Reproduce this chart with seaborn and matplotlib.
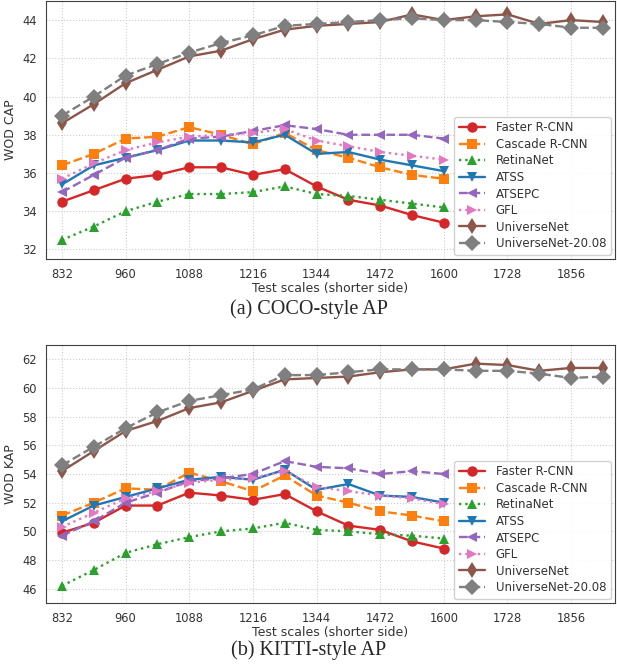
import seaborn as sns
import matplotlib.pyplot as plt
import pandas as pd

# escalas de prueba (lado corto)
escalas = [832, 896, 960, 1024, 1088, 1152, 1216, 1280, 1344, 1408, 1472, 1536, 1600,
           1664, 1728, 1792, 1856, 1920]
metodos = ["Faster R-CNN", "Cascade R-CNN", "RetinaNet", "ATSS", "ATSEPC", "GFL",
           "UniverseNet", "UniverseNet-20.08"]

# COCO-style AP
coco_faster = [34.5, 35.1, 35.7, 35.9, 36.3, 36.3, 35.9, 36.2, 35.3, 34.6, 34.3, 33.8, 33.4]
coco_cascade = [36.4, 37.0, 37.8, 37.9, 38.4, 38.0, 37.5, 38.1, 37.2, 36.8, 36.3, 35.9, 35.7]
coco_retina = [32.5, 33.2, 34.0, 34.5, 34.9, 34.9, 35.0, 35.3, 34.9, 34.8, 34.6, 34.4, 34.2]
coco_atss = [35.4, 36.4, 36.8, 37.2, 37.7, 37.7, 37.6, 38.0, 37.0, 37.1, 36.7, 36.4, 36.1]
coco_atsepc = [35.0, 35.9, 36.8, 37.2, 37.8, 37.9, 38.2, 38.5, 38.3, 38.0, 38.0, 38.0, 37.8]
coco_gfl = [35.7, 36.5, 37.2, 37.6, 37.9, 38.0, 38.1, 38.3, 37.7, 37.4, 37.1, 36.9, 36.7]
coco_universe = [38.6, 39.6, 40.7, 41.4, 42.1, 42.4, 43.0, 43.5, 43.7, 43.8, 43.9, 44.3, 44.0,
                 44.2, 44.3, 43.8, 44.0, 43.9]
coco_universe08 = [39.0, 40.0, 41.1, 41.7, 42.3, 42.8, 43.2, 43.7, 43.8, 43.9, 44.0, 44.1, 44.0,
                   44.0, 43.9, 43.8, 43.6, 43.6]

# KITTI-style AP
kitti_faster = [49.9, 50.6, 51.8, 51.8, 52.7, 52.5, 52.2, 52.6, 51.4, 50.4, 50.1, 49.3, 48.8]
kitti_cascade = [51.1, 52.0, 53.0, 52.9, 54.1, 53.5, 52.8, 53.9, 52.5, 52.0, 51.4, 51.1, 50.7]
kitti_retina = [46.2, 47.3, 48.5, 49.1, 49.6, 50.0, 50.2, 50.6, 50.1, 50.0, 49.8, 49.7, 49.5]
kitti_atss = [50.7, 51.8, 52.4, 53.0, 53.6, 53.8, 53.6, 54.3, 52.9, 53.3, 52.5, 52.4, 52.0]
kitti_atsepc = [49.7, 50.7, 52.0, 52.7, 53.5, 53.7, 54.0, 54.9, 54.5, 54.4, 54.0, 54.2, 54.0]
kitti_gfl = [50.3, 51.3, 52.3, 52.8, 53.4, 53.6, 53.7, 54.2, 53.1, 52.8, 52.5, 52.3, 51.9]
kitti_universe = [54.2, 55.6, 57.0, 57.7, 58.6, 59.0, 59.8, 60.6, 60.7, 60.8, 61.1, 61.3, 61.3,
                  61.7, 61.6, 61.2, 61.4, 61.4]
kitti_universe08 = [54.6, 55.9, 57.2, 58.3, 59.1, 59.5, 59.9, 60.9, 60.9, 61.1, 61.3, 61.3, 61.3,
                    61.2, 61.2, 61.0, 60.7, 60.8]

coco = [coco_faster, coco_cascade, coco_retina, coco_atss, coco_atsepc, coco_gfl,
        coco_universe, coco_universe08]
kitti = [kitti_faster, kitti_cascade, kitti_retina, kitti_atss, kitti_atsepc, kitti_gfl,
         kitti_universe, kitti_universe08]

marcadores = ["o", "s", "^", "v", "<", ">", "d", "D"]
lineas = ["-", "--", ":", "-", "--", ":", "-", "--"]
colores = sns.color_palette("tab10")
colores = [colores[3], colores[1], colores[2], colores[0], colores[4], colores[6],
           colores[5], colores[7]]

sns.set_style("whitegrid", {"grid.linestyle": ":", "grid.color": "0.8",
                            "axes.edgecolor": "0.25", "axes.linewidth": 1.2})
plt.rcParams["font.family"] = ["DejaVu Sans"]

fig = plt.figure(figsize=(6.17, 6.65), dpi=100)
ax1 = fig.add_axes([0.0746, 0.6105, 0.922, 0.388])
ax2 = fig.add_axes([0.0746, 0.0932, 0.922, 0.388])


def dibujar(ax, datos, ylabel, ylim, yticks):
    for nombre, y, m, ls, c in zip(metodos, datos, marcadores, lineas, colores):
        df = pd.DataFrame({"escala": escalas[:len(y)], "ap": y})
        ms = 8.5 if m == "D" else (8 if m == "d" else 7.5)
        sns.lineplot(data=df, x="escala", y="ap", ax=ax, color=c, marker=m, linestyle=ls,
                     linewidth=1.7, markersize=ms, markeredgewidth=0, label=nombre)
    ax.set_xlim(800, 1944)
    ax.set_ylim(*ylim)
    ax.set_xticks([832, 960, 1088, 1216, 1344, 1472, 1600, 1728, 1856])
    ax.set_yticks(yticks)
    ax.tick_params(labelsize=8.3, pad=3, colors="0.2")
    ax.set_xlabel("Test scales (shorter side)", fontsize=9, labelpad=1, color="0.2")
    ax.set_ylabel(ylabel, fontsize=9, labelpad=4, color="0.2")
    leg = ax.legend(loc="lower right", fontsize=8.5, frameon=True, borderaxespad=0.35,
                    handlelength=2.2, labelspacing=0.3, handletextpad=0.9,
                    framealpha=0.9)
    for t in leg.get_texts():
        t.set_color("0.2")


dibujar(ax1, coco, "WOD CAP", (31.5, 45), range(32, 45, 2))
dibujar(ax2, kitti, "WOD KAP", (45, 63), range(46, 63, 2))

fig.text(0.5, 0.535, "(a) COCO-style AP", ha="center", va="center",
         fontsize=14.5, family="Liberation Serif")
fig.text(0.5, 0.023, "(b) KITTI-style AP", ha="center", va="center",
         fontsize=14.5, family="Liberation Serif")

fig.savefig("out.png", dpi=100)
